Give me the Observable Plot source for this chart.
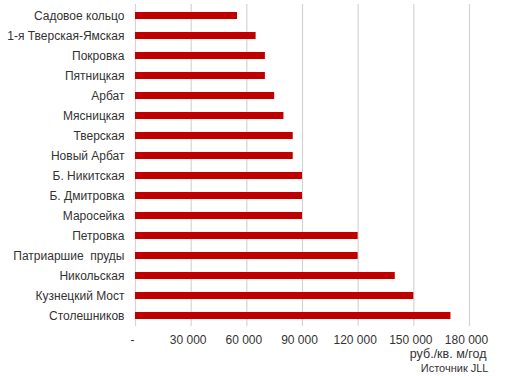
<!DOCTYPE html>
<html><head><meta charset="utf-8">
<script src="https://cdn.jsdelivr.net/npm/d3@7"></script>
<script src="https://cdn.jsdelivr.net/npm/@observablehq/plot@0.6"></script>
<style>body{margin:0;background:#fff;} svg{font-family:"Liberation Sans",Arial,sans-serif;}</style>
</head><body><div id="chart"></div>
<script>
const streets = ["Садовое кольцо","1-я Тверская-Ямская","Покровка","Пятницкая","Арбат","Мясницкая","Тверская","Новый Арбат","Б. Никитская","Б. Дмитровка","Маросейка","Петровка","Патриаршие  пруды","Никольская","Кузнецкий Мост","Столешников"];
const rents = [55000,65000,70000,70000,75000,80000,85000,85000,90000,90000,90000,120000,120000,140000,150000,170000];
const xTicks = [0,30000,60000,90000,120000,150000,180000];
const unitLabel = "руб./кв. м/год";
const sourceLabel = "Источник JLL";

const data = streets.map((s,i)=>({street:s, rent:rents[i]}));
const fmt = d => d === 0 ? "-" : d3.format(",")(d).replace(/,/g, " ");

const chart = Plot.plot({
  width: 506, height: 376,
  marginLeft: 135, marginRight: 37, marginTop: 4, marginBottom: 50,
  style: {fontSize: "12px", color: "#333", fontFamily: "Liberation Sans, Arial, sans-serif"},
  x: {domain: [0,180000], ticks: xTicks, tickFormat: fmt},
  y: {domain: streets, paddingInner: 0.65, paddingOuter: 0.325, align: 0.5},
  marks: [
    Plot.gridX({ticks: xTicks, stroke: "#d4d4d4", strokeOpacity: 1, strokeWidth: 1.2}),
    Plot.barX(data, {x: "rent", y: "street", fill: "#c00000"}),
    Plot.axisX({ticks: xTicks, tickFormat: fmt, tickSize: 0, tickPadding: 9, dx: -3, label: null, fill: "#333"}),
    Plot.axisY({tickSize: 0, tickPadding: 11, label: null, fill: "#333"}),
    Plot.text([unitLabel], {frameAnchor: "bottom-right", text: d => d, dx: 17, dy: 31, textAnchor: "end", fontSize: 12.5, fill: "#333"}),
    Plot.text([sourceLabel], {frameAnchor: "bottom-right", text: d => d, dx: 19, dy: 45, textAnchor: "end", fontSize: 11, fill: "#333"})
  ]
});
document.getElementById("chart").appendChild(chart);
</script>
</body></html>
